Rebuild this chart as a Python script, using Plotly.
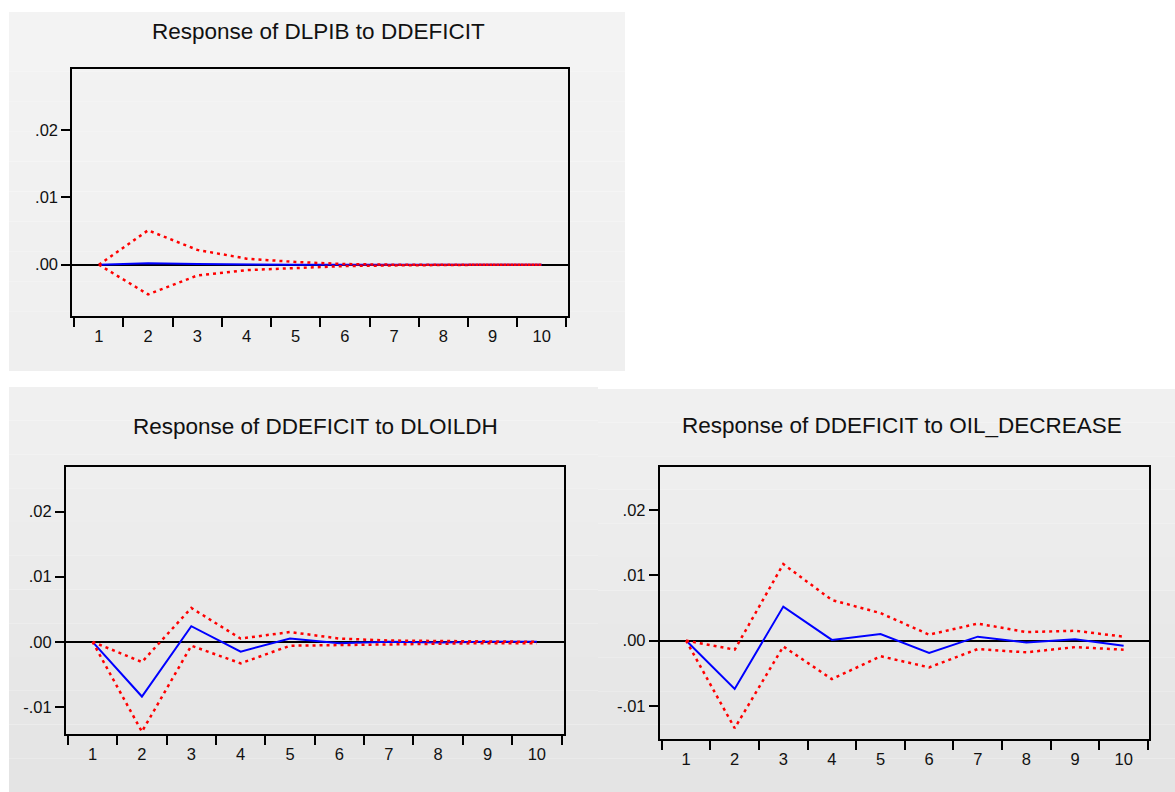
import plotly.graph_objects as go

W, H = 1175, 792

# ---------------- data ----------------
horizons = list(range(1, 11))
xtick_labels = [str(h) for h in horizons]
ytick_vals = [0.02, 0.01, 0.0, -0.01]
ytick_text = [".02", ".01", ".00", "-.01"]

titles = [
    "Response of DLPIB to DDEFICIT",
    "Response of DDEFICIT to DLOILDH",
    "Response of DDEFICIT to OIL_DECREASE",
]

dlpib_resp = [0, 0.0002, 0.0001, 0, 0, 0, 0, 0, 0, 0]
dlpib_upper = [0, 0.0051, 0.0022, 0.0009, 0.0004, 0.0001, 0, 0, 0, 0]
dlpib_lower = [0, -0.0044, -0.0016, -0.0008, -0.0005, -0.0002, -0.0001, 0, 0, 0]

dloil_resp = [0, -0.0084, 0.0024, -0.0015, 0.0005, -0.0002, 0, -0.0001, 0, 0]
dloil_upper = [0, -0.0031, 0.0052, 0.0005, 0.0015, 0.0005, 0.0002, 0.0001, 0, 0]
dloil_lower = [0, -0.0138, -0.0006, -0.0033, -0.0006, -0.0005, -0.0003, -0.0002, -0.0002, -0.0002]

oil_resp = [0, -0.0074, 0.0052, 0.0001, 0.0010, -0.0019, 0.0006, -0.0003, 0.0002, -0.0008]
oil_upper = [0, -0.0014, 0.0117, 0.0062, 0.0042, 0.0009, 0.0026, 0.0013, 0.0015, 0.0006]
oil_lower = [0, -0.0134, -0.0009, -0.0059, -0.0024, -0.0041, -0.0013, -0.0018, -0.0010, -0.0014]

series = [
    (dlpib_resp, dlpib_upper, dlpib_lower),
    (dloil_resp, dloil_upper, dloil_lower),
    (oil_resp, oil_upper, oil_lower),
]

# ---------------- layout geometry (pixels) ----------------
panels = [
    dict(box=(72.3, 69, 568.3, 316), xr=[0.46, 10.54], yr=[-0.0076, 0.029], tc=(318, 31)),
    dict(box=(65.9, 467.3, 564, 734.3), xr=[0.46, 10.55], yr=[-0.0142, 0.0268], tc=(315, 426)),
    dict(box=(659.8, 467.3, 1149.4, 739.3), xr=[0.46, 10.53], yr=[-0.0151, 0.0265], tc=(902, 425)),
]

def px(x):
    return x / W

def py(y):
    return 1 - y / H

FONT = "Liberation Sans, Arial, sans-serif"
fig = go.Figure()
layout = dict(
    width=W, height=H, autosize=False,
    margin=dict(l=0, r=0, t=0, b=0),
    paper_bgcolor="white", plot_bgcolor="white",
    showlegend=False,
    font=dict(family=FONT, color="#111111"),
    shapes=[], annotations=[],
)

# background gray panels (banded gradient)
def gray_block(x0, y0, x1, y1, c_top, c_bot, n=12):
    out = []
    for i in range(n):
        t = i / (n - 1)
        c = int(round(c_top + (c_bot - c_top) * t))
        ya = y0 + (y1 - y0) * i / n
        yb = y0 + (y1 - y0) * (i + 1) / n
        out.append(dict(type="rect", xref="paper", yref="paper",
                        x0=px(x0), x1=px(x1), y0=py(yb), y1=py(ya),
                        fillcolor=f"rgb({c},{c},{c})", line=dict(width=0), layer="below"))
    return out

layout["shapes"] += gray_block(9, 12, 625, 371, 243, 239)
layout["shapes"] += gray_block(9, 387, 598, 792, 240, 228)
layout["shapes"] += gray_block(598, 389, 1175, 792, 240, 228)

for i, (p, (resp, up, lo)) in enumerate(zip(panels, series)):
    n = "" if i == 0 else str(i + 1)
    x0, y0, x1, y1 = p["box"]
    layout[f"xaxis{n}"] = dict(
        domain=[px(x0), px(x1)], range=p["xr"], anchor=f"y{n}",
        tickmode="array", tickvals=horizons, ticktext=xtick_labels,
        ticks="", showgrid=False, zeroline=False,
        showline=True, linecolor="black", linewidth=2, mirror=True,
        tickfont=dict(size=16.5, family=FONT, color="#111111"),
        ticklabelstandoff=4,
        minor=dict(tickmode="array", tickvals=[h - 0.5 for h in horizons] + [horizons[-1] + 0.5],
                   ticks="outside", ticklen=9, tickwidth=2, tickcolor="black", showgrid=False),
        fixedrange=True,
    )
    layout[f"yaxis{n}"] = dict(
        domain=[py(y1), py(y0)], range=p["yr"], anchor=f"x{n}",
        tickmode="array", tickvals=ytick_vals, ticktext=ytick_text,
        ticks="outside", ticklen=9, tickwidth=2, tickcolor="black",
        showgrid=False, zeroline=True, zerolinecolor="black", zerolinewidth=2,
        showline=True, linecolor="black", linewidth=2, mirror=True,
        tickfont=dict(size=16.5, family=FONT, color="#111111"),
        fixedrange=True,
    )
    xa, ya = f"x{n}", f"y{n}"
    fig.add_trace(go.Scatter(x=horizons, y=resp, mode="lines", xaxis=xa, yaxis=ya,
                             line=dict(color="#0000ff", width=2)))
    for band in (up, lo):
        fig.add_trace(go.Scatter(x=horizons, y=band, mode="lines", xaxis=xa, yaxis=ya,
                                 line=dict(color="#ff0000", width=2.5, dash="3px,4px")))
    tx, ty = p["tc"]
    layout["annotations"].append(dict(
        text=titles[i], xref="paper", yref="paper", x=px(tx), y=py(ty),
        xanchor="center", yanchor="middle", showarrow=False,
        font=dict(size=22.5, family=FONT, color="#111111"),
    ))

fig.update_layout(**layout)
fig.write_html("out.html", config={"displayModeBar": False},
               post_script="document.body.style.margin='0';")
